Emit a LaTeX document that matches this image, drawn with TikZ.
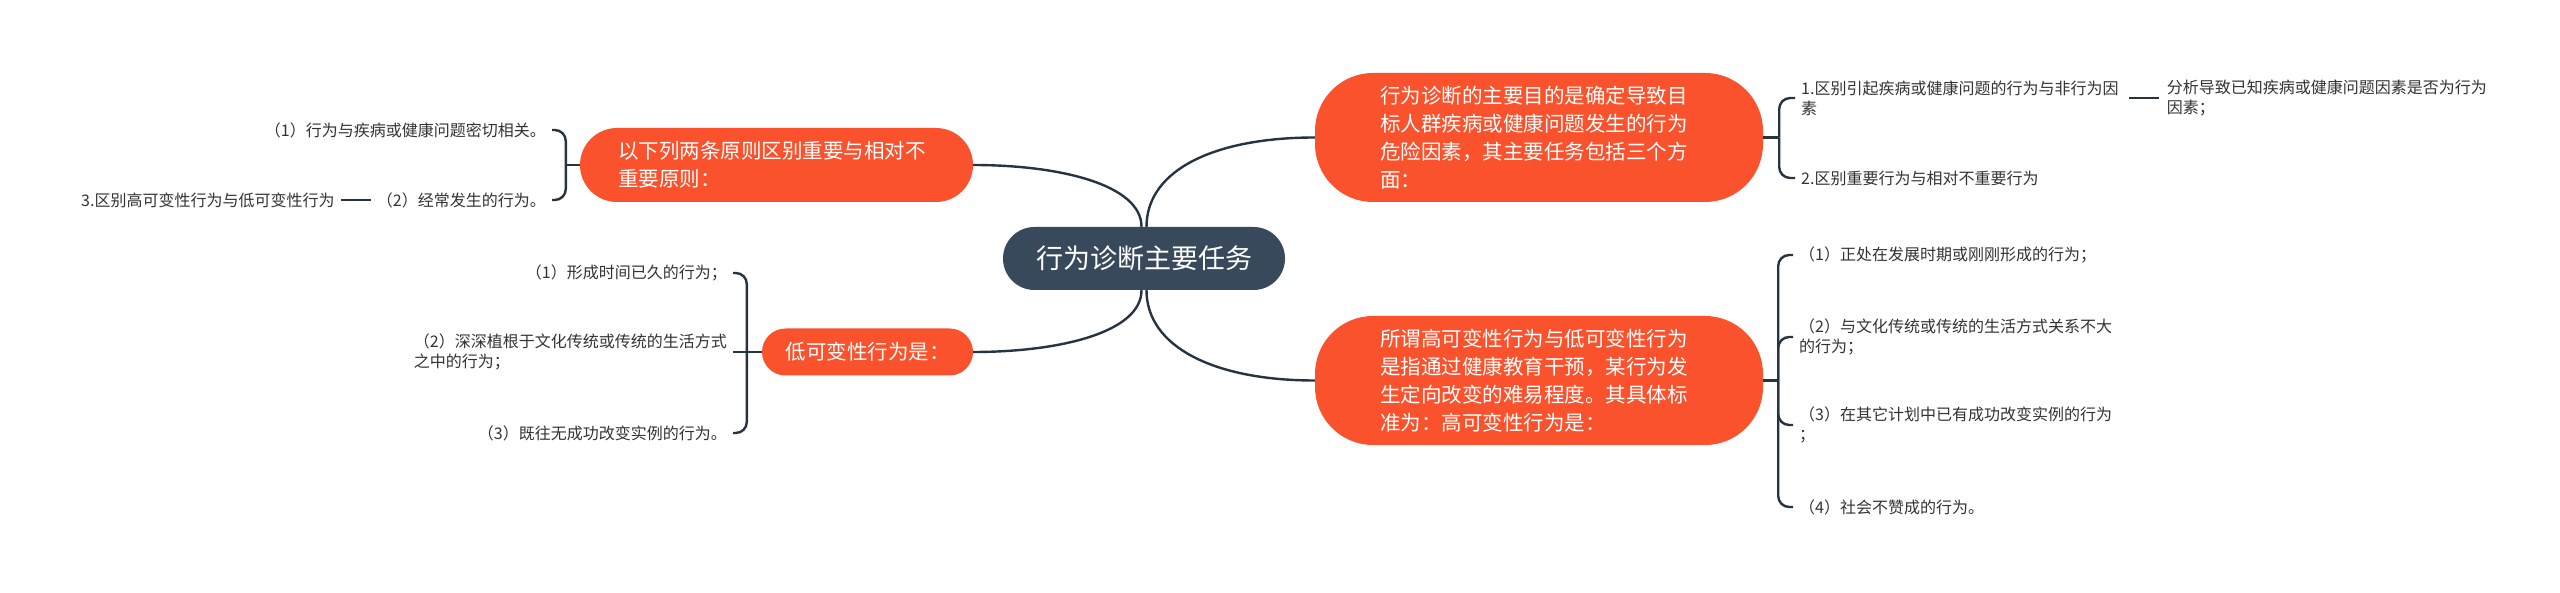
\documentclass[tikz,border=0pt]{standalone}
\usepackage{fontspec}
\setmainfont{Noto Sans CJK SC}
\definecolor{orng}{RGB}{250,82,45}
\definecolor{slate}{RGB}{55,73,90}
\definecolor{linec}{RGB}{38,52,66}
\definecolor{txt}{RGB}{51,51,51}
\begin{document}
\begin{tikzpicture}[x=1pt,y=-1pt,
  main/.style={fill=slate, text=white, rounded corners=31.5pt, minimum width=282pt, minimum height=63pt, inner sep=0pt, font=\fontsize{27}{32}\selectfont},
  branch/.style={fill=orng, text=white, inner sep=0pt, font=\fontsize{20.5}{28}\selectfont, align=left},
  leaf/.style={text=txt, inner xsep=6pt, inner ysep=0pt, font=\fontsize{16}{20}\selectfont, align=left},
  conn/.style={draw=linec, line width=2.4pt},
  brace/.style={conn, rounded corners=11pt}]
\fill[white] (0,0) rectangle (2560,593);
\useasboundingbox (0,0) rectangle (2560,593);

% central and branch nodes
\node[main] (c) at (1144,258.5) {行为诊断主要任务};
\node[branch, minimum width=393pt, minimum height=74pt, rounded corners=37pt, text width=317pt] (tl) at (776.5,165) {以下列两条原则区别重要与相对不\\重要原则：};
\node[branch, minimum width=211pt, minimum height=47pt, rounded corners=23.5pt] (ml) at (867.5,352) {低可变性行为是：};
\node[branch, minimum width=448pt, minimum height=129pt, rounded corners=58pt, text width=318pt] (tr) at (1539,137.5) {行为诊断的主要目的是确定导致目\\标人群疾病或健康问题发生的行为\\危险因素，其主要任务包括三个方\\面：};
\node[branch, minimum width=448pt, minimum height=129pt, rounded corners=58pt, text width=318pt] (br) at (1539,380.5) {所谓高可变性行为与低可变性行为\\是指通过健康教育干预，某行为发\\生定向改变的难易程度。其具体标\\准为：高可变性行为是：};

% leaves: top-left
\node[leaf, anchor=east] (l1) at (552,130) {（1）行为与疾病或健康问题密切相关。};
\node[leaf, anchor=east] (l2) at (552,200) {（2）经常发生的行为。};
\node[leaf, anchor=east] (l3) at ([xshift=-30pt]l2.west) {3.区别高可变性行为与低可变性行为};

% leaves: mid-left
\node[leaf, anchor=east] (m1) at (733,273) {（1）形成时间已久的行为；};
\node[leaf, anchor=east] (m2) at (733,352) {（2）深深植根于文化传统或传统的生活方式\\之中的行为；};
\node[leaf, anchor=east] (m3) at (733,433) {（3）既往无成功改变实例的行为。};

% leaves: top-right
\node[leaf, anchor=west] (r1) at (1795,98) {1.区别引起疾病或健康问题的行为与非行为因\\素};
\node[leaf, anchor=west] (r2) at (1795,178) {2.区别重要行为与相对不重要行为};
\node[leaf, anchor=west] (g1) at ([xshift=36pt]r1.east) {分析导致已知疾病或健康问题因素是否为行为\\因素；};

% leaves: bottom-right
\node[leaf, anchor=west] (b1) at (1793,255) {（1）正处在发展时期或刚刚形成的行为；};
\node[leaf, anchor=west] (b2) at (1793,337) {（2）与文化传统或传统的生活方式关系不大\\的行为；};
\node[leaf, anchor=west] (b3) at (1793,425) {（3）在其它计划中已有成功改变实例的行为\\；};
\node[leaf, anchor=west] (b4) at (1793,507) {（4）社会不赞成的行为。};

% central connectors
\draw[conn] ([xshift=-2.5pt]c.north) .. controls +(0,-42) and +(87,0) .. (tl.east);
\draw[conn] ([xshift=2.5pt]c.north) .. controls +(0,-57) and +(-100,0) .. (tr.west);
\draw[conn] ([xshift=-2.5pt]c.south) .. controls +(0,42) and +(87,0) .. (ml.east);
\draw[conn] ([xshift=2.5pt]c.south) .. controls +(0,57) and +(-100,0) .. (br.west);

% braces
\draw[conn] (tl.west) -- ++(-14,0) coordinate (tlj);
\draw[brace] (tlj) |- (l1.east);
\draw[brace] (tlj) |- (l2.east);
\draw[conn] (l3.east) -- (l2.west);

\draw[conn] (ml.west) -- ++(-15,0) coordinate (mlj);
\draw[brace] (mlj) |- (m1.east);
\draw[conn] (mlj) -- (m2.east);
\draw[brace] (mlj) |- (m3.east);

\draw[conn] (tr.east) -- ++(16,0) coordinate (trj);
\draw[brace] (trj) |- (r1.west);
\draw[brace] (trj) |- (r2.west);
\draw[conn, shorten <=4pt, shorten >=2pt] (r1.east) -- (g1.west);

\draw[conn] (br.east) -- ++(15,0) coordinate (brj);
\draw[brace] (brj) |- (b1.west);
\draw[brace] (brj) |- (b2.west);
\draw[brace] (brj) |- (b3.west);
\draw[brace] (brj) |- (b4.west);
\end{tikzpicture}
\end{document}
